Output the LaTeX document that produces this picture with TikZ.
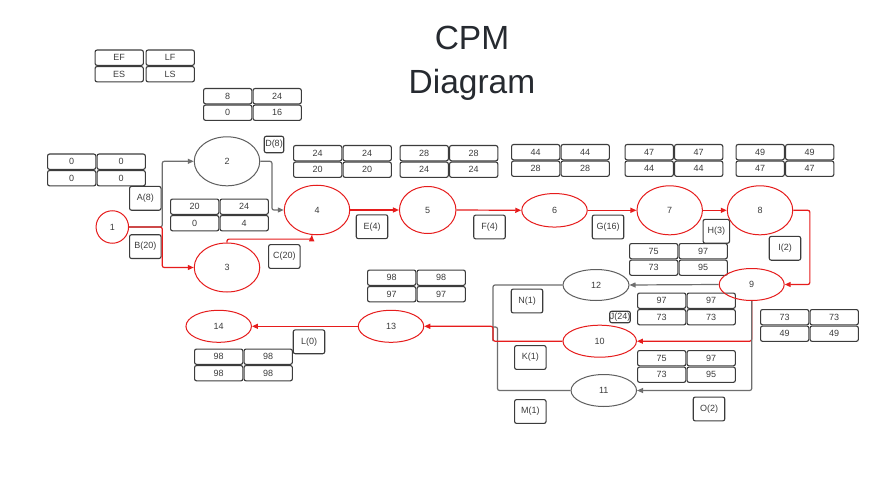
\documentclass[tikz,border=0pt]{standalone}
\usepackage{fontspec}
\setmainfont{Liberation Sans}
\usetikzlibrary{shapes.geometric,arrows.meta}
\definecolor{cpmred}{RGB}{230,28,28}
\definecolor{cpmgray}{RGB}{110,110,110}
\definecolor{evgray}{RGB}{95,95,95}
\definecolor{boxline}{RGB}{60,60,60}
\definecolor{txt}{RGB}{60,60,60}
\definecolor{titlec}{RGB}{38,42,48}
\tikzset{
 x=1pt,y=-1pt,
 cell/.style={draw=boxline, line width=1.1pt, rounded corners=2pt, minimum width=48.3pt, minimum height=15.3pt, inner sep=0pt, text=txt, font=\fontsize{9}{10}\selectfont, anchor=north west},
 act/.style={draw=boxline, line width=1.1pt, rounded corners=2pt, minimum width=31.5pt, minimum height=23.8pt, inner sep=0pt, text=txt, font=\fontsize{9}{10}\selectfont},
 ev/.style={ellipse, draw=cpmred, line width=1pt, inner sep=0pt, text=txt, font=\fontsize{9}{10}\selectfont},
 evg/.style={ev, draw=evgray},
 rline/.style={draw=cpmred, line width=1.2pt, rounded corners=2pt},
 gline/.style={draw=cpmgray, line width=1.2pt, rounded corners=2pt},
 tip/.style={-{Triangle[length=6pt,width=5pt]}},
}
\newcommand\cpmgrid[8][49.5]{%
 \node[cell] (#2a) at (#3,#4) {#5};
 \node[cell] (#2b) at (#3+#1,#4) {#6};
 \node[cell] (#2c) at (#3,#4+16.5) {#7};
 \node[cell] (#2d) at (#3+#1,#4+16.5) {#8};
}
\begin{document}
\begin{tikzpicture}
\fill[white] (0,0) rectangle (896,481);
\useasboundingbox (0,0) rectangle (896,481);

% title
\node[anchor=base, text=titlec, font=\fontsize{33.5}{40}\selectfont, inner sep=0pt] (t1) at (472,50) {CPM};
\node[anchor=base, text=titlec, font=\fontsize{33.5}{40}\selectfont, inner sep=0pt] (t2) at (472,93.3) {Diagram};

% grids
\cpmgrid[51]{gl}{94.5}{49.5}{EF}{LF}{ES}{LS}
\cpmgrid{ga}{203}{88}{8}{24}{0}{16}
\cpmgrid{gz}{47}{153.5}{0}{0}{0}{0}
\cpmgrid{gb}{170}{198.5}{20}{24}{0}{4}
\cpmgrid{gc}{293}{145}{24}{24}{20}{20}
\cpmgrid{gd}{399.5}{145}{28}{28}{24}{24}
\cpmgrid{ge}{511}{144}{44}{44}{28}{28}
\cpmgrid{gf}{624.5}{144}{47}{47}{44}{44}
\cpmgrid{gg}{735.5}{144}{49}{49}{47}{47}
\cpmgrid{gh}{629}{243}{75}{97}{73}{95}
\cpmgrid{gi}{637}{292.5}{97}{97}{73}{73}
\cpmgrid{gj}{637}{350}{75}{97}{73}{95}
\cpmgrid{gk}{760}{309}{73}{73}{49}{49}
\cpmgrid{gm}{367}{269.5}{98}{98}{97}{97}
\cpmgrid{gn}{194}{348.5}{98}{98}{98}{98}

% activity labels
\node[act] (aA) at (145.3,198.3) {A(8)};
\node[act] (aB) at (145.3,246.6) {B(20)};
\node[act] (aC) at (284.3,256.5) {C(20)};
\node[act, minimum width=19.5pt, minimum height=16.5pt] (aD) at (274,144.5) {D(8)};
\node[act] (aE) at (372,226.7) {E(4)};
\node[act] (aF) at (489.5,227) {F(4)};
\node[act] (aG) at (608,227) {G(16)};
\node[act, minimum width=26.5pt] (aH) at (716.3,231.3) {H(3)};
\node[act] (aI) at (785,248.3) {I(2)};
\node[act, minimum width=19.5pt, minimum height=11.5pt] (aJ) at (620,317) {J(24)};
\node[act] (aK) at (530.3,357.5) {K(1)};
\node[act] (aL) at (309,341.8) {L(0)};
\node[act] (aM) at (530.3,411.5) {M(1)};
\node[act] (aN) at (527,301) {N(1)};
\node[act] (aO) at (709,409) {O(2)};

% events
\node[ev, circle, minimum size=32.5pt] (n1) at (112.3,227) {1};
\node[evg, minimum width=65.5pt, minimum height=49pt] (n2) at (227,161.3) {2};
\node[ev, minimum width=65.5pt, minimum height=49pt] (n3) at (227,267.5) {3};
\node[ev, minimum width=65.5pt, minimum height=49.5pt] (n4) at (317,210) {4};
\node[ev, minimum width=56.5pt, minimum height=47pt] (n5) at (427.7,210) {5};
\node[ev, minimum width=65.5pt, minimum height=33.5pt] (n6) at (554.5,210.3) {6};
\node[ev, minimum width=65.5pt, minimum height=49pt] (n7) at (669.7,210.3) {7};
\node[ev, minimum width=65.5pt, minimum height=49pt] (n8) at (760,210.3) {8};
\node[ev, minimum width=65pt, minimum height=32pt] (n9) at (751.7,284.5) {9};
\node[ev, minimum width=73.5pt, minimum height=32pt] (n10) at (599.7,341.2) {10};
\node[evg, minimum width=65.5pt, minimum height=32pt] (n11) at (603.8,390.5) {11};
\node[evg, minimum width=66pt, minimum height=31pt] (n12) at (596,285) {12};
\node[ev, minimum width=65.5pt, minimum height=32pt] (n13) at (391,326.3) {13};
\node[ev, minimum width=65.5pt, minimum height=32pt] (n14) at (218.7,326.3) {14};

% merge points
\coordinate (m1) at (493,341.2);
\coordinate (m2) at (497.5,327);
\coordinate (m3) at (493,327);

% connectors
\draw[gline, tip] (n1.east) -- ++(33.2,0) |- (n2.west);
\draw[rline, tip] (n1.east) -- ++(33.2,0) |- (n3.west);
\draw[gline, tip] (n2.east) -- ++(11.7,0) |- (n4.west);
\draw[rline, tip] (n3.north) -- ++(0,-3.4) -| ([xshift=-5.3pt]n4.south);
\draw[rline, tip] (n4.east) -- (n5.west);
\draw[rline, tip] (n5.east) -- (n6.west);
\draw[rline, tip] (n6.east) -- (n7.west);
\draw[rline, tip] (n7.east) -- (n8.west);
\draw[rline, tip] (n8.east) -- ++(16.6,0) |- (n9.east);
\draw[gline, tip] (n9.west) -- (n12.east);
\draw[rline, tip] (n9.south) |- (n10.east);
\draw[gline, tip] (n9.south) |- (n11.east);
\draw[gline] (n12.west) -| (m1);
\draw[gline] (n11.west) -| (m2) -- (m3);
\draw[rline, tip] (n10.west) -- (m1) |- (n13.east);
\draw[rline, tip] (n13.west) -- (n14.east);
\end{tikzpicture}
\end{document}
